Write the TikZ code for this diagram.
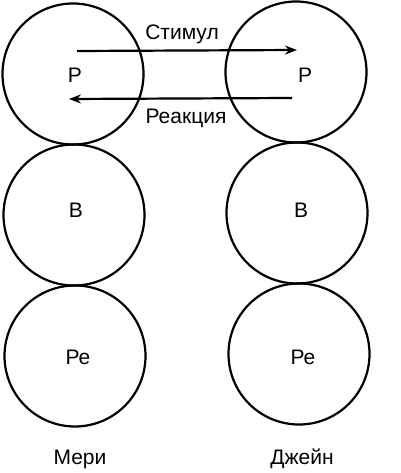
\documentclass[tikz,border=0pt]{standalone}
\usepackage{fontspec}
\setmainfont{Liberation Sans}
\usetikzlibrary{arrows.meta}
\begin{document}
\begin{tikzpicture}[x=1pt,y=-1pt,
  ego/.style={circle,draw,line width=2.2pt,minimum size=141pt,inner sep=0pt},
  lbl/.style={font=\fontsize{21}{24}\selectfont,inner sep=0pt},
  arr/.style={line width=2.2pt,-{Stealth[length=12pt,width=9pt]}}]
\useasboundingbox (0,0) rectangle (400,473);
\node[ego] (mp) at (73,74) {};
\node[ego] (mb) at (74,215) {};
\node[ego] (mr) at (75,356) {};
\node[ego] (jp) at (296,72) {};
\node[ego] (jb) at (297,213) {};
\node[ego] (jr) at (299,354) {};
\node[lbl] (mpl) at (75,75) {Р};
\node[lbl] (jpl) at (305,75) {Р};
\node[lbl] (mbl) at (76,210) {В};
\node[lbl] (jbl) at (301,210) {В};
\node[lbl] (mrl) at (78,357) {Ре};
\node[lbl] (jrl) at (303,357) {Ре};
\node[lbl] (mary) at (80,459) {Мери};
\node[lbl] (jane) at (302,459) {Джейн};
\coordinate (s1) at (77,51);
\coordinate (s2) at (297,50);
\coordinate (r1) at (292,98);
\coordinate (r2) at (69,99);
\draw[arr] (s1) -- (s2);
\draw[arr] (r1) -- (r2);
\node[lbl] (stim) at (182,34) {Стимул};
\node[lbl] (reac) at (186,118) {Реакция};
\end{tikzpicture}
\end{document}
